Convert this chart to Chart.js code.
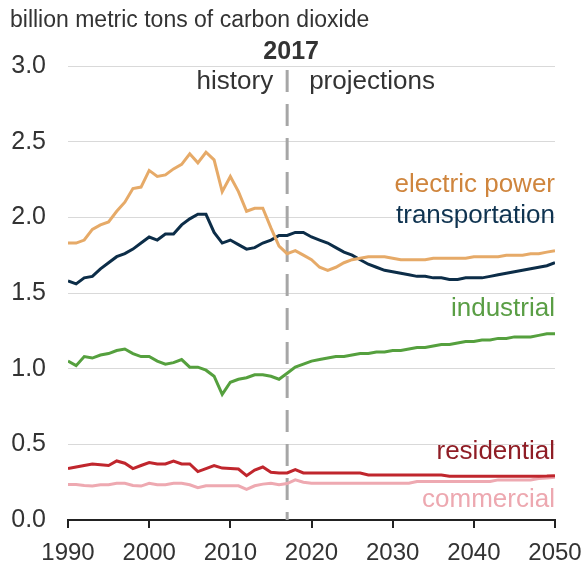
<!DOCTYPE html>
<html>
<head>
<meta charset="utf-8">
<script src="https://cdn.jsdelivr.net/npm/chart.js@4.4.0/dist/chart.umd.min.js"></script>
<style>
  html, body { margin: 0; padding: 0; background: #fff; }
  #wrap { position: relative; width: 583px; height: 565px; }
</style>
</head>
<body>
<div id="wrap"><canvas id="chart" width="583" height="565"></canvas></div>
<script>
// ============================================================
// Data (billion metric tons CO2), 1990-2050
// ============================================================
const years = [];
for (let y = 1990; y <= 2050; y++) years.push(y);

const electricPower = [
  1.83, 1.83, 1.85, 1.92, 1.95, 1.97, 2.04, 2.10, 2.19, 2.20,
  2.31, 2.27, 2.28, 2.32, 2.35, 2.42, 2.36, 2.43, 2.38, 2.17,
  2.27, 2.17, 2.04, 2.06, 2.06, 1.93, 1.81, 1.76, 1.78, 1.75,
  1.72, 1.67, 1.65, 1.67, 1.70, 1.72, 1.73, 1.74, 1.74, 1.74,
  1.73, 1.72, 1.72, 1.72, 1.72, 1.73, 1.73, 1.73, 1.73, 1.73,
  1.74, 1.74, 1.74, 1.74, 1.75, 1.75, 1.75, 1.76, 1.76, 1.77,
  1.78
];
const transportation = [
  1.58, 1.56, 1.60, 1.61, 1.66, 1.70, 1.74, 1.76, 1.79, 1.83,
  1.87, 1.85, 1.89, 1.89, 1.95, 1.99, 2.02, 2.02, 1.90, 1.83,
  1.85, 1.82, 1.79, 1.80, 1.83, 1.85, 1.88, 1.88, 1.90, 1.90,
  1.87, 1.85, 1.83, 1.80, 1.77, 1.75, 1.72, 1.69, 1.67, 1.65,
  1.64, 1.63, 1.62, 1.61, 1.61, 1.60, 1.60, 1.59, 1.59, 1.60,
  1.60, 1.60, 1.61, 1.62, 1.63, 1.64, 1.65, 1.66, 1.67, 1.68,
  1.70
];
const industrial = [
  1.05, 1.02, 1.08, 1.07, 1.09, 1.10, 1.12, 1.13, 1.10, 1.08,
  1.08, 1.05, 1.03, 1.04, 1.06, 1.01, 1.01, 0.99, 0.95, 0.83,
  0.91, 0.93, 0.94, 0.96, 0.96, 0.95, 0.93, 0.97, 1.01, 1.03,
  1.05, 1.06, 1.07, 1.08, 1.08, 1.09, 1.10, 1.10, 1.11, 1.11,
  1.12, 1.12, 1.13, 1.14, 1.14, 1.15, 1.16, 1.16, 1.17, 1.18,
  1.18, 1.19, 1.19, 1.20, 1.20, 1.21, 1.21, 1.21, 1.22, 1.23,
  1.23
];
const residential = [
  0.34, 0.35, 0.36, 0.37, 0.365, 0.36, 0.39, 0.375, 0.34, 0.36,
  0.38, 0.37, 0.37, 0.39, 0.37, 0.37, 0.32, 0.34, 0.36, 0.343,
  0.34, 0.337, 0.293, 0.33, 0.35, 0.315, 0.311, 0.311, 0.333, 0.311,
  0.311, 0.311, 0.311, 0.311, 0.311, 0.311, 0.311, 0.298, 0.298, 0.298,
  0.298, 0.298, 0.298, 0.298, 0.298, 0.298, 0.298, 0.289, 0.289, 0.289,
  0.289, 0.289, 0.289, 0.289, 0.289, 0.289, 0.289, 0.289, 0.289, 0.29,
  0.293
];
const commercial = [
  0.235, 0.235, 0.228, 0.224, 0.233, 0.233, 0.243, 0.243, 0.228, 0.224,
  0.243, 0.233, 0.233, 0.243, 0.243, 0.233, 0.213, 0.226, 0.226, 0.226,
  0.226, 0.226, 0.202, 0.226, 0.237, 0.243, 0.233, 0.241, 0.265, 0.25,
  0.243, 0.243, 0.243, 0.243, 0.243, 0.243, 0.243, 0.243, 0.243, 0.243,
  0.243, 0.243, 0.243, 0.254, 0.254, 0.254, 0.254, 0.254, 0.254, 0.254,
  0.254, 0.254, 0.254, 0.265, 0.265, 0.265, 0.265, 0.265, 0.274, 0.278,
  0.283
];

const yTicks = [0, 0.5, 1.0, 1.5, 2.0, 2.5, 3.0];
const xTicks = [1990, 2000, 2010, 2020, 2030, 2040, 2050];
const splitYear = 2017;

const FONT = '"Liberation Sans", Arial, sans-serif';
const TEXT = '#333333';

function pts(vals) { return vals.map((v, i) => ({ x: years[i], y: v })); }

// series: data, line colour, label, label colour, label baseline y
const series = [
  { data: electricPower, color: '#E6AA68', label: 'electric power', labelColor: '#CF853D', ly: 192 },
  { data: transportation, color: '#0C2D48', label: 'transportation', labelColor: '#0F3350', ly: 223 },
  { data: industrial, color: '#55A03E', label: 'industrial', labelColor: '#5A9E45', ly: 316 },
  { data: residential, color: '#C0262D', label: 'residential', labelColor: '#8F1D25', ly: 459 },
  { data: commercial, color: '#EEA9B1', label: 'commercial', labelColor: '#EDA8B0', ly: 507 },
];

// ============================================================
// Annotations plugin
// ============================================================
const annotations = {
  id: 'annotations',
  beforeDatasetsDraw(chart) {
    const { ctx, scales: { x, y } } = chart;
    const px = x.getPixelForValue(splitYear);
    ctx.save();
    ctx.strokeStyle = '#A6A6A6';
    ctx.lineWidth = 3;
    ctx.setLineDash([22, 12]);
    ctx.beginPath();
    ctx.moveTo(px, 70);
    ctx.lineTo(px, y.getPixelForValue(0));
    ctx.stroke();
    ctx.restore();
  },
  afterDraw(chart) {
    const { ctx, scales: { x } } = chart;
    const px = x.getPixelForValue(splitYear);
    ctx.save();
    ctx.textBaseline = 'alphabetic';
    ctx.fillStyle = TEXT;
    ctx.font = '23px ' + FONT;
    ctx.textAlign = 'left';
    ctx.fillText('billion metric tons of carbon dioxide', 10, 27);

    ctx.font = 'bold 25px ' + FONT;
    ctx.textAlign = 'center';
    ctx.fillText(String(splitYear), px + 4, 59);

    ctx.font = '26px ' + FONT;
    ctx.textAlign = 'right';
    ctx.fillText('history', px - 14, 89);
    ctx.textAlign = 'left';
    ctx.fillText('projections', px + 22, 89);

    ctx.textAlign = 'right';
    for (const s of series) {
      ctx.fillStyle = s.labelColor;
      ctx.fillText(s.label, chart.chartArea.right, s.ly);
    }
    ctx.restore();
  }
};

// ============================================================
// Chart
// ============================================================
new Chart(document.getElementById('chart'), {
  type: 'line',
  data: {
    datasets: series.map(s => ({
      label: s.label,
      data: pts(s.data),
      borderColor: s.color,
      borderWidth: 3,
      pointRadius: 0,
      tension: 0,
      fill: false,
    })),
  },
  options: {
    responsive: false,
    animation: false,
    layout: { padding: { top: 66, right: 28, left: 0, bottom: 0 } },
    plugins: { legend: { display: false }, tooltip: { enabled: false } },
    scales: {
      x: {
        type: 'linear',
        min: 1990,
        max: 2050,
        afterBuildTicks: a => { a.ticks = xTicks.map(v => ({ value: v })); },
        afterFit: a => { a.height = 45; a.paddingLeft = 0; a.paddingRight = 0; },
        ticks: { color: TEXT, font: { family: FONT, size: 24 }, padding: 11, maxRotation: 0, callback: v => String(v) },
        grid: { drawOnChartArea: false, drawTicks: true, tickLength: 8, color: '#222', lineWidth: 2 },
        border: { display: true, color: '#222', width: 2 },
      },
      y: {
        min: 0,
        max: 3,
        afterBuildTicks: a => { a.ticks = yTicks.map(v => ({ value: v })); },
        afterFit: a => { a.width = 68; a.paddingTop = 0; a.paddingBottom = 0; },
        ticks: { color: TEXT, font: { family: FONT, size: 25 }, padding: 22, callback: v => v.toFixed(1) },
        grid: { color: '#D9D9D9', lineWidth: 1, drawTicks: false },
        border: { display: false },
      },
    },
  },
  plugins: [annotations],
});
</script>
</body>
</html>
